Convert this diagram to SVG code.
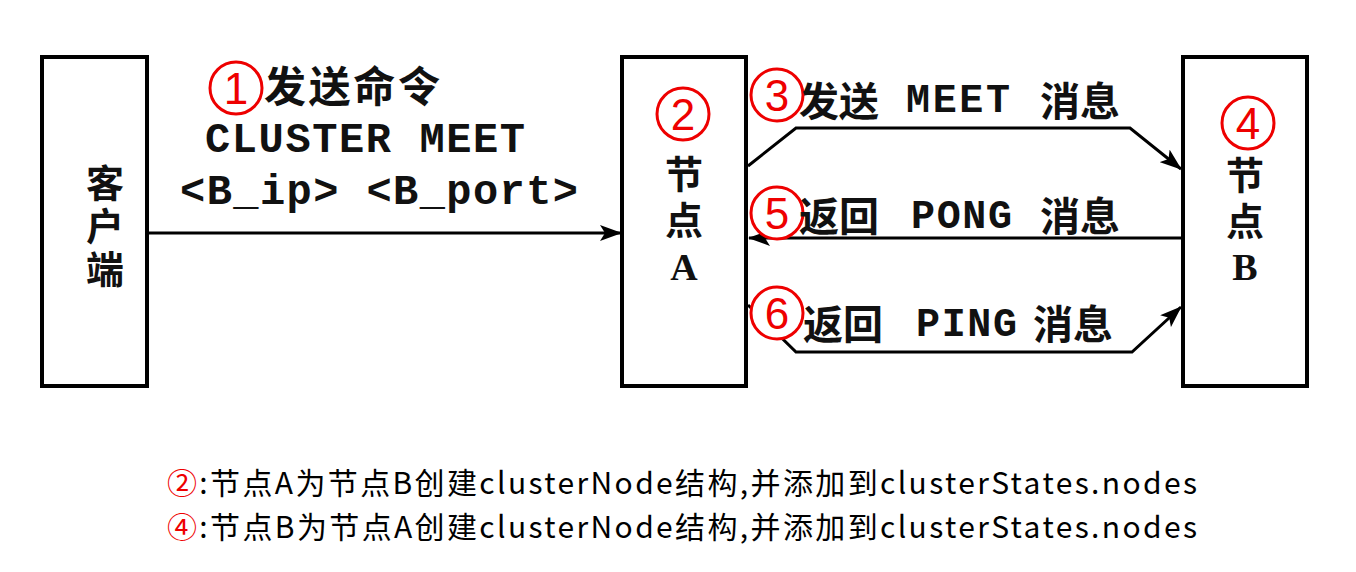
<svg xmlns="http://www.w3.org/2000/svg" width="1356" height="572" viewBox="0 0 1356 572">
<defs>
<style>
.box{fill:#fff;stroke:#000;stroke-width:4}
.cn{font-family:"Noto Sans CJK SC","Noto Sans",sans-serif;font-weight:bold;fill:#111}
.vt{writing-mode:vertical-rl}
.mono{font-family:"Liberation Mono","DejaVu Sans Mono",monospace;font-weight:bold;fill:#111}
.serif{font-family:"Liberation Serif","DejaVu Serif",serif;font-weight:bold;fill:#111}
.num{fill:#fff;stroke:#e00;stroke-width:3}
.numt{font-family:"Liberation Sans","Noto Sans",sans-serif;fill:#e00;font-size:44px;text-anchor:middle}
.line{fill:none;stroke:#000;stroke-width:3}
.note{font-family:"Noto Sans CJK SC","Noto Sans",sans-serif;font-size:30px;fill:#000}
</style>
<marker id="arr" viewBox="0 0 22 16" refX="21" refY="8" markerWidth="22" markerHeight="16" markerUnits="userSpaceOnUse" orient="auto">
<path d="M0,0 L22,8 L0,16 L5,8 Z" fill="#000"/>
</marker>
</defs>
<rect width="1356" height="572" fill="#fff"/>

<g id="client">
<rect class="box" x="42" y="57" width="105" height="329"/>
<text class="cn vt" x="105" y="164" font-size="38" letter-spacing="5">客户端</text>
</g>

<g id="nodeA">
<rect class="box" x="622" y="57" width="124" height="329"/>
<circle class="num" cx="683" cy="114" r="26"/>
<text class="numt" x="683" y="130">2</text>
<text class="cn vt" x="684" y="155" font-size="38" letter-spacing="8">节点</text>
<text class="serif" x="684" y="280" font-size="38" text-anchor="middle">A</text>
</g>

<g id="nodeB">
<rect class="box" x="1183" y="57" width="124" height="329"/>
<circle class="num" cx="1248" cy="123" r="26"/>
<text class="numt" x="1248" y="139">4</text>
<text class="cn vt" x="1245" y="156" font-size="38" letter-spacing="8">节点</text>
<text class="serif" x="1245" y="280" font-size="38" text-anchor="middle">B</text>
</g>

<g id="connectors">
<line class="line" x1="148" y1="233" x2="621" y2="233" marker-end="url(#arr)"/>
<polyline class="line" points="748,166 796,128 1130,128 1181,169" marker-end="url(#arr)"/>
<line class="line" x1="1182" y1="238" x2="749" y2="238" marker-end="url(#arr)"/>
<polyline class="line" points="748,305 796,352 1132,352 1181,307" marker-end="url(#arr)"/>
</g>

<g id="label1">
<circle class="num" cx="236" cy="88" r="26"/>
<text class="numt" x="236" y="104">1</text>
<text class="cn" x="264" y="102" font-size="42" textLength="176">发送命令</text>
<text class="mono" x="205" y="152" font-size="42" textLength="320">CLUSTER MEET</text>
<text class="mono" x="180" y="204" font-size="42" textLength="398" font-weight="normal">&lt;B_ip&gt; &lt;B_port&gt;</text>
</g>

<g id="label3">
<circle class="num" cx="777" cy="95" r="26"/>
<text class="numt" x="777" y="111">3</text>
<text class="cn" x="799" y="116" font-size="40">发送</text>
<text class="mono" x="906" y="112" font-size="40" textLength="104">MEET</text>
<text class="cn" x="1040" y="116" font-size="40">消息</text>
</g>

<g id="label5">
<circle class="num" cx="777" cy="213" r="26"/>
<text class="numt" x="777" y="229">5</text>
<text class="cn" x="799" y="231" font-size="40">返回</text>
<text class="mono" x="911" y="228" font-size="40" font-weight="normal" textLength="101">PONG</text>
<text class="cn" x="1040" y="231" font-size="40">消息</text>
</g>

<g id="label6">
<circle class="num" cx="777" cy="313" r="26"/>
<text class="numt" x="777" y="329">6</text>
<text class="cn" x="803" y="339" font-size="40">返回</text>
<text class="mono" x="916" y="336" font-size="40" font-weight="normal" textLength="101">PING</text>
<text class="cn" x="1033" y="339" font-size="40">消息</text>
</g>

<g id="notes">
<text class="note" x="167" y="494" textLength="1030"><tspan fill="#e00">②</tspan>:节点A为节点B创建clusterNode结构,并添加到clusterStates.nodes</text>
<text class="note" x="167" y="538" textLength="1030"><tspan fill="#e00">④</tspan>:节点B为节点A创建clusterNode结构,并添加到clusterStates.nodes</text>
</g>
</svg>
